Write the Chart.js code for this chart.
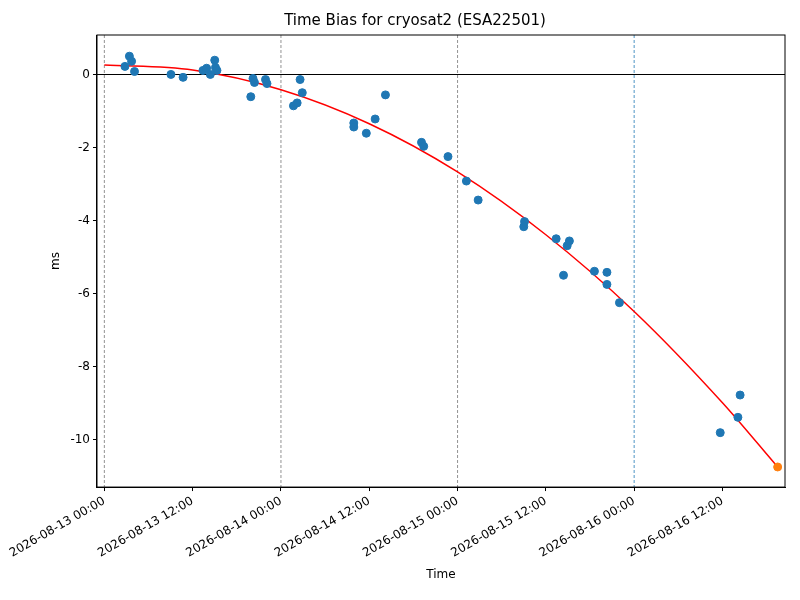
<!DOCTYPE html>
<html>
<head>
<meta charset="utf-8">
<script src="https://cdn.jsdelivr.net/npm/chart.js@4/dist/chart.umd.min.js"></script>
<style>body{margin:0;background:#fff}</style>
</head>
<body>
<canvas id="c" width="800" height="600"></canvas>
<script>
// hours since 2026-08-13 00:00
var obsHours = [2.8,3.4,3.7,4.1,9.05,10.7,13.4,13.9,14.4,15,15.1,15.3,19.9,20.2,20.4,21.9,22.1,
  25.7,26.2,26.6,26.9,33.9,33.9,35.6,36.8,38.2,43.1,43.4,46.7,49.2,50.8,57,57.1,61.4,62.4,62.9,63.2,
  66.6,68.3,68.3,70,83.7,86.1,86.4];
var obsBias = [0.22,0.5,0.36,0.08,0,-0.08,0.11,0.17,0,0.39,0.19,0.11,-0.61,-0.11,-0.22,-0.14,-0.25,
  -0.86,-0.78,-0.14,-0.5,-1.33,-1.44,-1.61,-1.22,-0.56,-1.86,-1.97,-2.25,-2.92,-3.44,-4.17,-4.03,-4.5,-5.5,-4.69,-4.56,
  -5.39,-5.42,-5.75,-6.25,-9.81,-9.39,-8.78];
var predHours = [91.5];
var predBias = [-10.75];
var fitHours = [0,12,24,36,48,60,72,84,91.5];
var fitBias = [0.26,0.12,-0.42,-1.35,-2.67,-4.39,-6.49,-8.99,-10.75];
var dayLines = [0,24,48,72];
var dayColors = ['#777','#777','#777','#1f77b4'];
var startDate = Date.UTC(2026,7,13);

function pts(xs, ys){ return xs.map(function(x,i){ return {x:x, y:ys[i]}; }); }
function pad(n){ return (n<10?'0':'')+n; }

var refLines = {
  id:'refLines',
  beforeDatasetsDraw: function(chart){
    var ctx = chart.ctx, xs = chart.scales.x, ys = chart.scales.y, a = chart.chartArea;
    ctx.save();
    ctx.lineWidth = 0.8;
    dayLines.forEach(function(h,i){
      var px = xs.getPixelForValue(h);
      ctx.strokeStyle = dayColors[i];
      ctx.setLineDash([3,2]);
      ctx.beginPath(); ctx.moveTo(px,a.top); ctx.lineTo(px,a.bottom); ctx.stroke();
    });
    ctx.setLineDash([]);
    ctx.strokeStyle = '#000';
    ctx.lineWidth = 1;
    var py = Math.round(ys.getPixelForValue(0)) + 0.5;
    ctx.beginPath(); ctx.moveTo(a.left,py); ctx.lineTo(a.right,py); ctx.stroke();
    ctx.restore();
  },
  afterDatasetsDraw: function(chart){
    var ctx = chart.ctx, a = chart.chartArea;
    ctx.save();
    ctx.strokeStyle = '#000'; ctx.lineWidth = 1;
    ctx.strokeRect(a.left, a.top, a.right - a.left, a.bottom - a.top);
    ctx.restore();
  }
};

new Chart(document.getElementById('c'), {
  type: 'scatter',
  data: {
    datasets: [
      {data: pts(fitHours, fitBias), showLine: true, borderColor: 'red', borderWidth: 1.5,
       pointRadius: 0, cubicInterpolationMode: 'monotone', order: 2},
      {data: pts(obsHours, obsBias), backgroundColor: '#1f77b4', borderColor: '#1f77b4', pointRadius: 4, order: 1},
      {data: pts(predHours, predBias), backgroundColor: '#ff7f0e', borderColor: '#ff7f0e', pointRadius: 4, order: 0}
    ]
  },
  options: {
    responsive: false,
    animation: false,
    layout: {padding: {left: 45, right: 15, top: 0, bottom: 14}},
    plugins: {
      legend: {display: false},
      tooltip: {enabled: false},
      title: {display: true, text: 'Time Bias for cryosat2 (ESA22501)', color: '#000',
        font: {family: 'DejaVu Sans', size: 15, weight: 'normal'}, padding: {top: 12, bottom: 5}}
    },
    scales: {
      x: {
        type: 'linear', min: -1, max: 92.5,
        afterBuildTicks: function(s){ s.ticks = [0,12,24,36,48,60,72,84].map(function(v){return {value:v};}); },
        ticks: {
          color: '#000', font: {family: 'DejaVu Sans', size: 12}, maxRotation: 30, minRotation: 30,
          callback: function(v){
            var d = new Date(startDate + v*3600000);
            return d.getUTCFullYear()+'-'+pad(d.getUTCMonth()+1)+'-'+pad(d.getUTCDate())+' '+pad(d.getUTCHours())+':00';
          }
        },
        grid: {display: true, drawOnChartArea: false, drawTicks: true, tickLength: 4, color: '#000'},
        border: {color: '#000'},
        title: {display: true, text: 'Time', color: '#000', font: {family: 'DejaVu Sans', size: 12}}
      },
      y: {
        min: -11.3, max: 1.08,
        afterBuildTicks: function(s){ s.ticks = [-10,-8,-6,-4,-2,0].map(function(v){return {value:v};}); },
        ticks: {color: '#000', font: {family: 'DejaVu Sans', size: 12}},
        grid: {display: true, drawOnChartArea: false, drawTicks: true, tickLength: 4, color: '#000'},
        border: {color: '#000'},
        title: {display: true, text: 'ms', color: '#000', font: {family: 'DejaVu Sans', size: 12}}
      }
    }
  },
  plugins: [refLines]
});
</script>
</body>
</html>
